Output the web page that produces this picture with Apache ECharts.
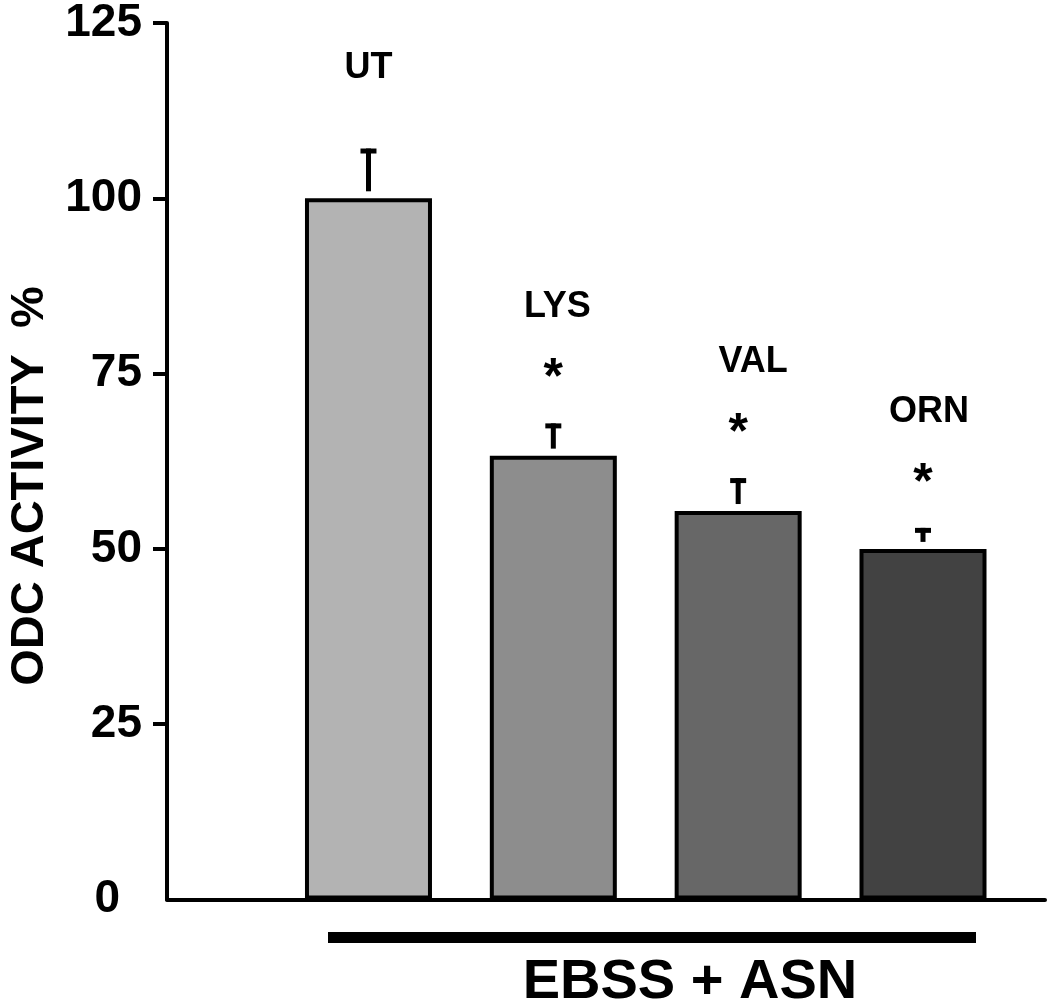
<!DOCTYPE html>
<html>
<head>
<meta charset="utf-8">
<script src="https://cdn.jsdelivr.net/npm/echarts@6/dist/echarts.min.js"></script>
<style>
html,body{margin:0;padding:0;background:#fff;}
#chart{width:1050px;height:1005px;}
</style>
</head>
<body>
<div id="chart"></div>
<script>
// ---- data ----
const categories = ['UT', 'LYS', 'VAL', 'ORN'];
const means = [100, 63.3, 55.4, 50.0];          // ODC activity %
const errors = [7.1, 4.6, 4.7, 3.0];             // upper error (SE)
const significant = [0, 1, 1, 1];                // * marker
const yTicks = [0, 25, 50, 75, 100, 125];
const yTitle = 'ODC ACTIVITY  %';
const groupLabel = 'EBSS + ASN';

// ---- styles ----
const barColors = ['#b3b3b3', '#8d8d8d', '#676767', '#424242'];
const labelShift = [0, 4, 15, 6];
const FONT = '"Liberation Sans", Arial, Helvetica, sans-serif';

const chart = echarts.init(document.getElementById('chart'), null, {renderer: 'canvas'});

const barData = means.map((v, i) => ({
  value: [i + 1, v],
  itemStyle: {color: barColors[i], borderColor: '#000', borderWidth: 4}
}));
const errData = means.map((v, i) => [i + 1, v, errors[i], significant[i]]);

const option = {
  animation: false,
  backgroundColor: '#fff',
  grid: {left: 167, right: 5, top: 22, bottom: 105.5, containLabel: false},
  xAxis: {
    type: 'value',
    min: -0.09, max: 4.66,
    axisLine: {show: true, onZero: false, lineStyle: {color: '#000', width: 4}},
    axisTick: {show: false},
    axisLabel: {show: false},
    splitLine: {show: false}
  },
  yAxis: {
    type: 'value',
    min: yTicks[0], max: yTicks[yTicks.length - 1], interval: 25,
    axisLine: {show: true, onZero: false, lineStyle: {color: '#000', width: 4}},
    axisTick: {show: true, inside: false, length: 14, customValues: yTicks.slice(1),
      lineStyle: {color: '#000', width: 4}},
    axisLabel: {
      margin: 25,
      color: '#000',
      fontFamily: FONT,
      fontWeight: 'bold',
      fontSize: 46,
      formatter: v => v === 0 ? '{z|0}' : String(v),
      rich: {z: {fontFamily: FONT, fontWeight: 'bold', fontSize: 46, color: '#000', padding: [0, 22, 0, 0]}}
    },
    splitLine: {show: false}
  },
  series: [
    {
      type: 'bar',
      data: barData,
      barWidth: 127,
      z: 2
    },
    {
      type: 'custom',
      z: 3,
      data: errData,
      renderItem: function (params, api) {
        const i = params.dataIndex;
        const x = api.value(0), m = api.value(1), e = api.value(2), s = api.value(3);
        const pBar = api.coord([x, m]);
        const pTop = api.coord([x, m + e]);
        const cx = pBar[0];
        const ty = pTop[1];
        const children = [
          {type: 'rect', shape: {x: cx - 8, y: ty, width: 16, height: 5}, style: {fill: '#000'}},
          {type: 'rect', shape: {x: cx - 2.5, y: ty, width: 5, height: Math.max(0, pBar[1] - 7 - ty)}, style: {fill: '#000'}}
        ];
        if (s) {
          children.push({type: 'text', x: cx, y: ty - 44,
            style: {text: '*', fill: '#000', font: 'bold 50px ' + FONT, align: 'center', verticalAlign: 'middle'}});
        }
        children.push({type: 'text', x: cx + labelShift[i], y: ty - (s ? 116 : 80),
          style: {text: categories[i], fill: '#000', font: 'bold 36px ' + FONT, align: 'center', verticalAlign: 'middle'}});
        return {type: 'group', children: children};
      }
    }
  ],
  graphic: [
    {type: 'text', x: 30, y: 486, rotation: Math.PI / 2,
      style: {text: yTitle, fill: '#000', font: 'bold 47px ' + FONT, align: 'center', verticalAlign: 'middle'}},
    {type: 'rect', shape: {x: 328, y: 932, width: 648, height: 11}, style: {fill: '#000'}},
    {type: 'text', x: 690, y: 983,
      style: {text: groupLabel, fill: '#000', font: 'bold 56px ' + FONT, align: 'center', verticalAlign: 'middle'}}
  ]
};
chart.setOption(option);
</script>
</body>
</html>
